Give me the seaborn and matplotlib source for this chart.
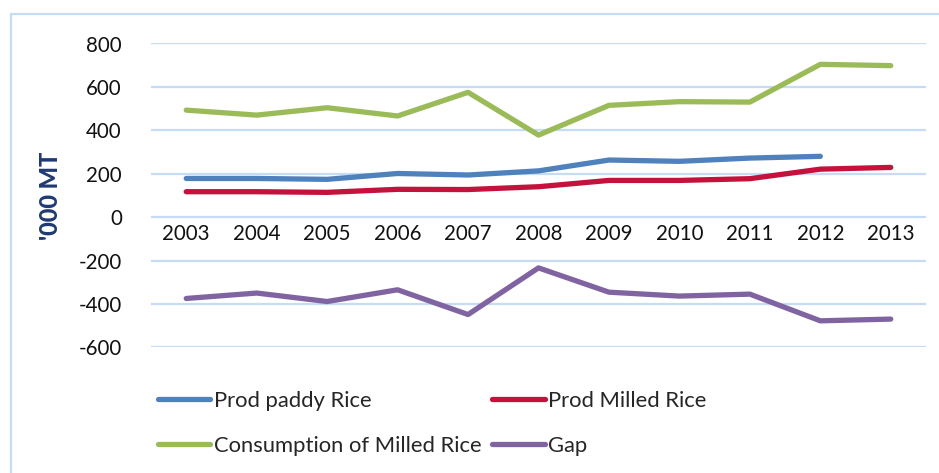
import numpy as np
import pandas as pd
import matplotlib.pyplot as plt
import seaborn as sns
from matplotlib.patches import Rectangle

# Values ('000 MT)
YEARS = [str(y) for y in range(2003, 2014)]
PROD_PADDY = [178, 178, 174, 201, 194, 213, 263, 257, 272, 280, np.nan]
PROD_MILLED = [117, 117, 114, 128, 127, 140, 169, 169, 177, 221, 229]
CONSUMPTION = [493, 470, 504, 466, 575, 378, 515, 532, 530, 704, 698]
GAP = [-375, -350, -389, -335, -449, -234, -346, -364, -355, -478, -470]

SERIES = ["Prod paddy Rice", "Prod Milled Rice", "Consumption of Milled Rice", "Gap"]
COLORS = ["#4F81BD", "#C4123D", "#9BBB59", "#8064A2"]
Y_TICKS = [-600, -400, -200, 0, 200, 400, 600, 800]

sns.set_theme(style="white")
plt.rcParams['font.family'] = ['Lato', 'DejaVu Sans']

df = pd.DataFrame({"Year": YEARS,
                   SERIES[0]: PROD_PADDY,
                   SERIES[1]: PROD_MILLED,
                   SERIES[2]: CONSUMPTION,
                   SERIES[3]: GAP})
long = df.melt(id_vars="Year", var_name="Series", value_name="Value")

W, H = 939, 473
fig = plt.figure(figsize=(W / 100, H / 100), dpi=100)
# plot area in pixels: x 151..926, y 43.5..347.3
ax = fig.add_axes([151 / W, 1 - 347.3 / H, (926 - 151) / W, (347.3 - 43.5) / H])

grid_c = "#C6DBF5"
for yv in Y_TICKS:
    ax.axhline(yv, color=grid_c, lw=1.6, zorder=0)

sns.lineplot(data=long, x="Year", y="Value", hue="Series", hue_order=SERIES,
             palette=COLORS, linewidth=3.8, ax=ax, legend=False, sort=False)
for ln in ax.get_lines():
    ln.set_solid_capstyle("round")

ax.set_xlim(-0.5, len(YEARS) - 0.5)
ax.set_ylim(-600, 800)
ax.set_yticks(Y_TICKS)
ax.set_yticklabels([str(v) for v in Y_TICKS], fontsize=14.8, color="#111111")
ax.tick_params(axis="y", length=0, pad=21)
ax.set_xticks([])
ax.set_xlabel("")
ax.set_ylabel("'000 MT", fontsize=17, fontweight="black", color="#1F3A73")
ax.yaxis.set_label_coords((62 - 151) / 775, 0.5)
for s in ax.spines.values():
    s.set_visible(False)

# category labels sit just under the zero line
for i, yr in enumerate(YEARS):
    ax.text(i, -30, yr, ha="center", va="top", fontsize=14.8, color="#111111")

# legend (2 columns, filled row by row like the reference)
order = [0, 2, 1, 3]
handles = [plt.Line2D([], [], color=COLORS[i], lw=3.8, solid_capstyle="round") for i in order]
labels = [SERIES[i] for i in order]
leg = fig.legend(handles, labels, ncol=2, loc="upper left",
                 bbox_to_anchor=(138 / W, 1 - 371 / H), frameon=False,
                 fontsize=15.8, handlelength=2.4, handletextpad=0.15,
                 columnspacing=0.5, labelspacing=1.15)

# outer chart border (cropped on right and bottom)
fig.patches.append(Rectangle((11 / W, -0.1), 1.2, 1 - 14 / H + 0.1,
                             transform=fig.transFigure, fill=False,
                             edgecolor="#C6DBF5", lw=1.6))

fig.savefig("out.png", dpi=100)
